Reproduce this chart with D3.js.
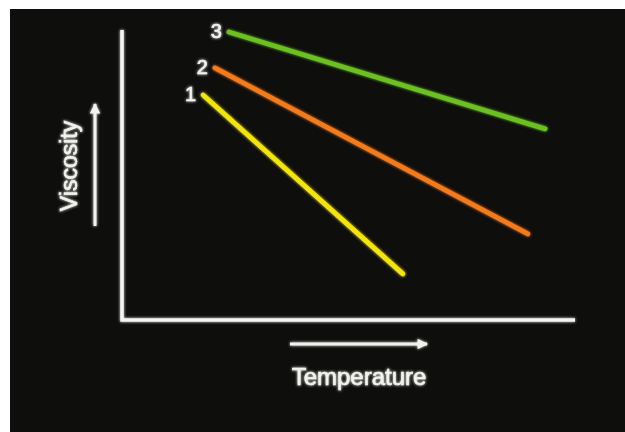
<!DOCTYPE html>
<html>
<head>
<meta charset="utf-8">
<script src="https://cdn.jsdelivr.net/npm/d3@7"></script>
<style>
  body { margin: 0; background: #fff; }
  text { font-family: "Liberation Sans", Arial, sans-serif; fill: #f2f2ee; stroke: #f2f2ee; stroke-width: 0.6; }
</style>
</head>
<body>
<div id="chart"></div>
<script>
// series: start and end of each line, in chart units (0..10)
var seriesNames = ["1", "2", "3"];
var seriesColors = ["#f4e40a", "#f27b1e", "#6cc020"];
var seriesStart = [[1.79, 7.76], [2.05, 8.69], [2.36, 9.93]];
var seriesEnd = [[6.20, 1.59], [8.96, 2.97], [9.34, 6.59]];
var xLabel = "Temperature";
var yLabel = "Viscosity";

var W = 625, H = 432;
var margin = {top: 30, right: 50, bottom: 112, left: 122};

var svg = d3.select("#chart").append("svg")
  .attr("width", W).attr("height", H);

// dark frame
svg.append("rect").attr("x", 10).attr("y", 9)
  .attr("width", W - 10).attr("height", H - 9)
  .attr("fill", "#0e0e0d");

var defs = svg.append("defs");
var glow = defs.append("filter").attr("id", "glow")
  .attr("x", "-20%").attr("y", "-20%").attr("width", "140%").attr("height", "140%");
glow.append("feGaussianBlur").attr("in", "SourceGraphic").attr("stdDeviation", 1.6).attr("result", "b");
var mrg = glow.append("feMerge");
mrg.append("feMergeNode").attr("in", "b");
mrg.append("feMergeNode").attr("in", "SourceGraphic");

defs.append("marker").attr("id", "arrow")
  .attr("viewBox", "0 0 10 10").attr("refX", 9).attr("refY", 5)
  .attr("markerWidth", 4.5).attr("markerHeight", 3.5)
  .attr("markerUnits", "strokeWidth").attr("orient", "auto")
  .append("path").attr("d", "M0,0 L10,5 L0,10 Z").attr("fill", "#f2f2ee").attr("stroke", "none");

var x = d3.scaleLinear().domain([0, 10]).range([margin.left, W - margin.right]);
var y = d3.scaleLinear().domain([0, 10]).range([H - margin.bottom, margin.top]);

var g = svg.append("g").attr("filter", "url(#glow)");

// axes as plain lines
g.append("path")
  .attr("d", d3.line()([[x(0), y(10)], [x(0), y(0)], [x(10), y(0)]]))
  .attr("fill", "none").attr("stroke", "#f4f4f0").attr("stroke-width", 3.5);

// series lines
var data = seriesNames.map((n, i) => ({name: n, color: seriesColors[i], pts: [seriesStart[i], seriesEnd[i]]}));
var line = d3.line().x(d => x(d[0])).y(d => y(d[1]));

g.selectAll(".series").data(data).enter().append("path")
  .attr("class", "series")
  .attr("d", d => line(d.pts))
  .attr("fill", "none")
  .attr("stroke", d => d.color)
  .attr("stroke-width", 4.8)
  .attr("stroke-linecap", "round");

g.selectAll(".lab").data(data).enter().append("text")
  .attr("class", "lab")
  .attr("x", d => x(d.pts[0][0]) - 7)
  .attr("y", d => y(d.pts[0][1]) + 6)
  .attr("text-anchor", "end")
  .attr("font-size", 20)
  .text(d => d.name);

// direction arrows
g.append("line")
  .attr("x1", 290).attr("x2", 427).attr("y1", 344).attr("y2", 344)
  .attr("stroke", "#f2f2ee").attr("stroke-width", 3)
  .attr("marker-end", "url(#arrow)");
g.append("line")
  .attr("x1", 95).attr("x2", 95).attr("y1", 226).attr("y2", 104)
  .attr("stroke", "#f2f2ee").attr("stroke-width", 3)
  .attr("marker-end", "url(#arrow)");

g.append("text")
  .attr("x", 359).attr("y", 385)
  .attr("text-anchor", "middle").attr("font-size", 24)
  .text(xLabel);
g.append("text")
  .attr("transform", "translate(77,166) rotate(-90)")
  .attr("text-anchor", "middle").attr("font-size", 23)
  .text(yLabel);
</script>
</body>
</html>
